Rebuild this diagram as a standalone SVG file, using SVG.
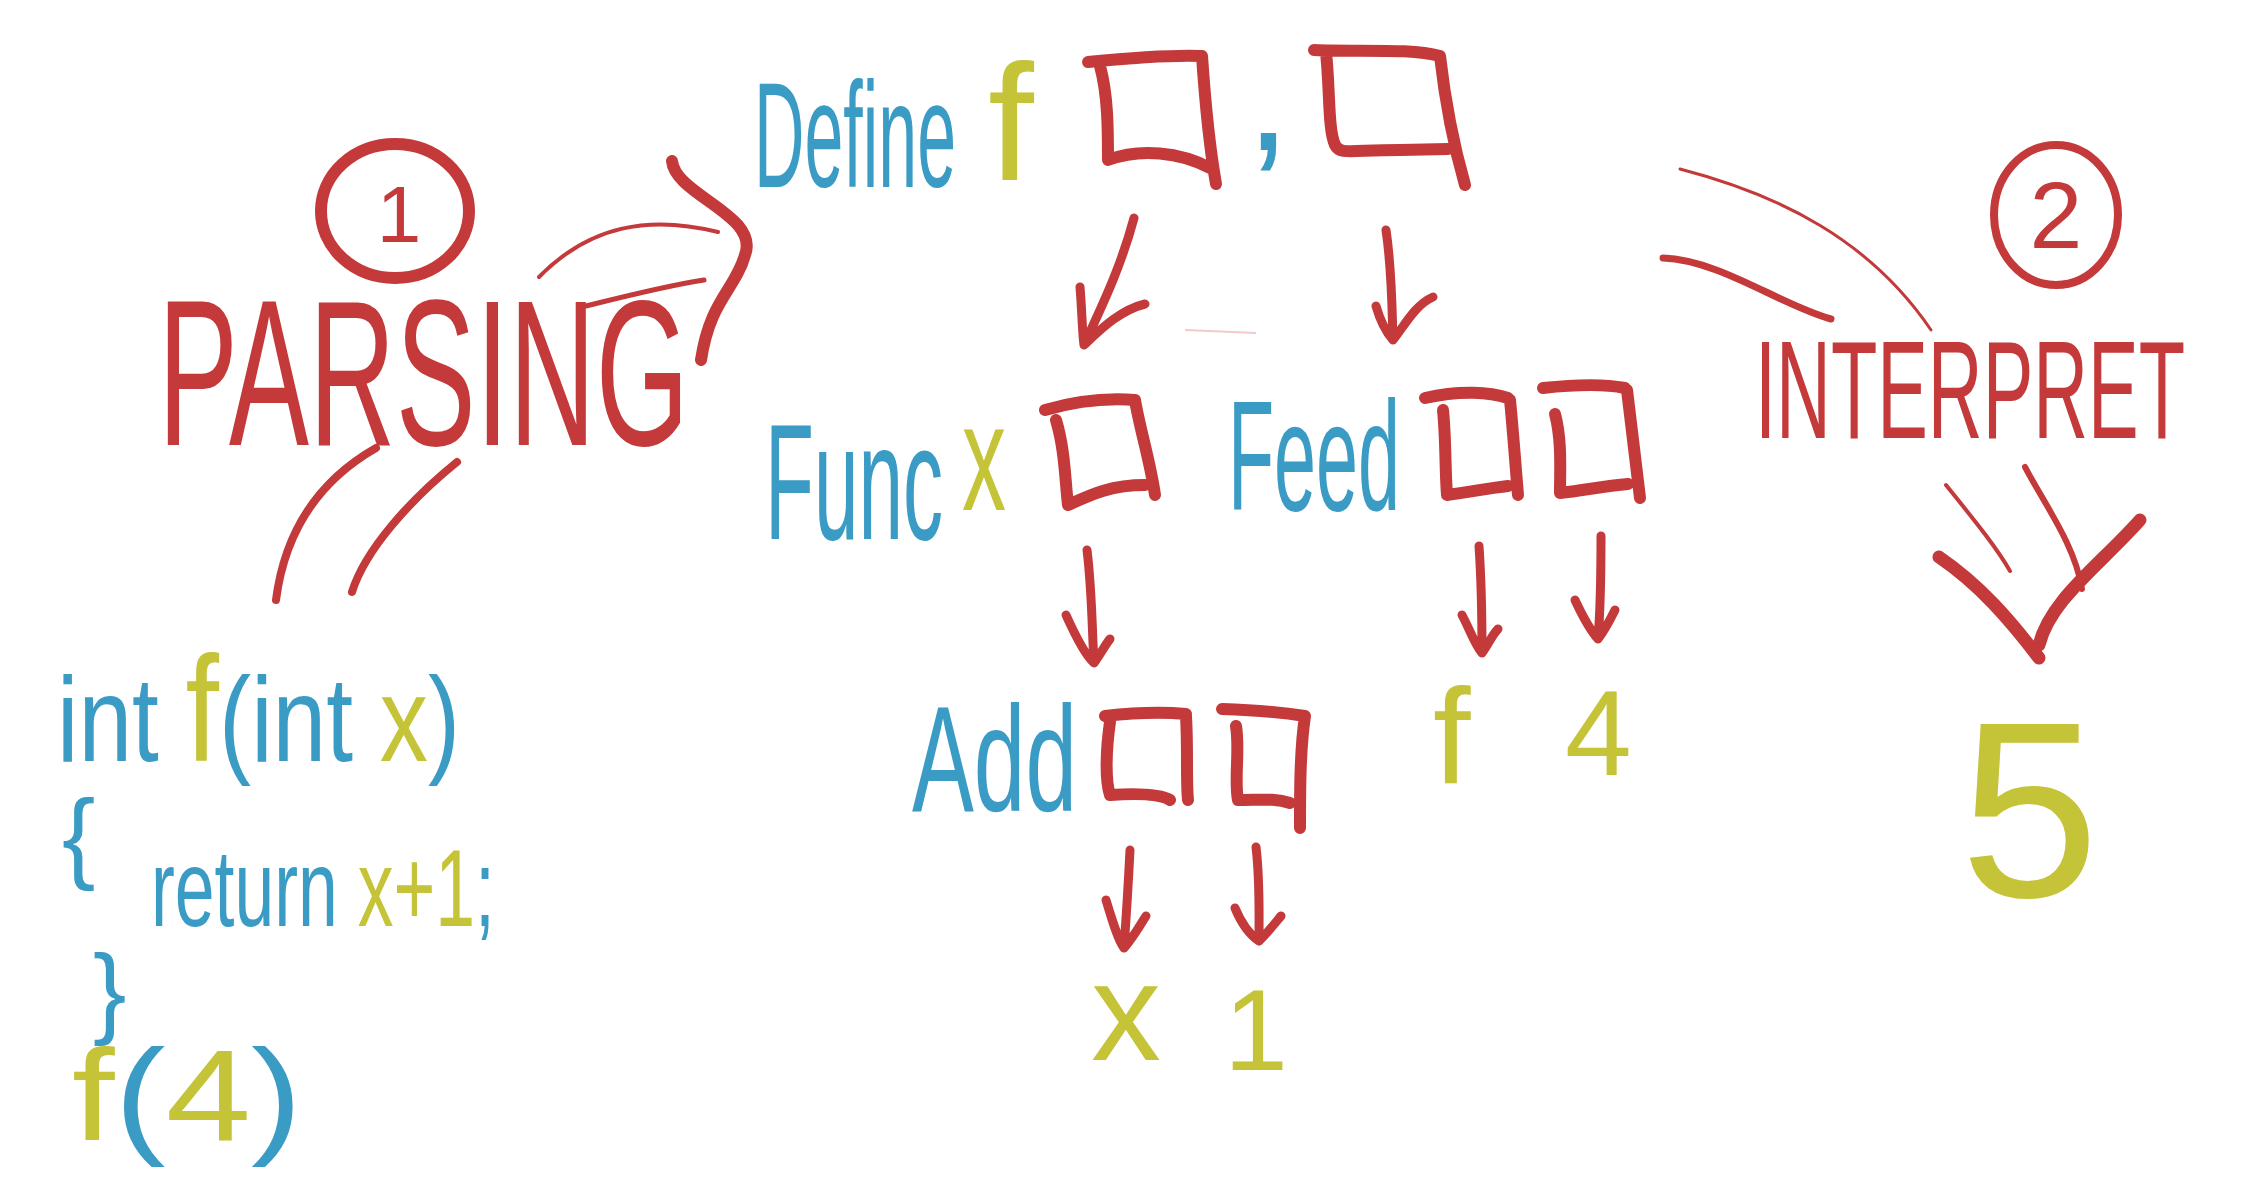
<svg xmlns="http://www.w3.org/2000/svg" width="2252" height="1196" viewBox="0 0 2252 1196">
<style>
text{font-family:"Liberation Sans",Arial,sans-serif}
.red{fill:#C4393A}.blue{fill:#3A9BC5}.yel{fill:#C5C337}
.box{fill:none;stroke:#C4393A;stroke-width:12;stroke-linecap:round;stroke-linejoin:round}
.arr{fill:none;stroke:#C4393A;stroke-width:9;stroke-linecap:round;stroke-linejoin:round}
.thin{fill:none;stroke:#C4393A;stroke-linecap:round}
</style>
<rect width="2252" height="1196" fill="#fff"/>
<g id="connectors">
<path class="thin" stroke-width="8" d="M376,448 C320,480 285,530 276,600"/>
<path class="thin" stroke-width="8" d="M457,462 C410,500 365,550 352,592"/>
<path class="thin" stroke-width="4" d="M539,277 C590,225 650,215 718,232"/>
<path class="thin" stroke-width="5" d="M586,306 C630,295 670,285 704,280"/>
<path class="thin" stroke-width="12" d="M672,161 C675,195 760,215 745,255 C735,290 710,300 701,360"/>
<path class="arr" d="M1134,218 C1120,270 1100,310 1084,345 M1080,287 C1082,310 1082,330 1084,345 C1100,330 1120,310 1145,304"/>
<path class="arr" d="M1386,230 C1392,270 1392,310 1393,340 M1376,306 C1380,320 1386,332 1393,340 C1405,325 1415,305 1433,297"/>
<path fill="none" stroke="#f3c9c9" stroke-width="2" d="M1185,330 L1256,333"/>
<path class="arr" d="M1087,550 C1092,590 1092,630 1094,663 M1066,615 C1075,635 1085,655 1094,663 C1100,655 1105,645 1110,639"/>
<path class="arr" d="M1479,546 C1482,590 1482,630 1482,653 M1462,615 C1470,630 1475,645 1482,653 C1488,645 1492,635 1498,629"/>
<path class="arr" d="M1601,536 C1601,580 1600,615 1598,639 M1575,600 C1582,615 1590,630 1598,639 C1605,630 1610,620 1615,610"/>
<path class="arr" d="M1130,850 C1128,890 1126,920 1124,948 M1106,900 C1112,920 1118,940 1124,948 C1135,935 1140,925 1146,916"/>
<path class="arr" stroke-width="12" d="M1256,847 C1260,880 1259,910 1259,941 M1235,908 C1242,925 1250,935 1259,941 C1270,930 1276,922 1281,916"/>
<path class="thin" stroke-width="3" d="M1680,169 C1780,195 1870,240 1931,330"/>
<path class="thin" stroke-width="7" d="M1663,258 C1720,260 1780,305 1831,319"/>
<path class="thin" stroke-width="4" d="M1946,485 C1970,515 1995,545 2010,571"/>
<path class="thin" stroke-width="6" d="M2025,467 C2045,505 2075,545 2082,589"/>
<path class="thin" stroke-width="13" d="M1939,557 C1980,585 2010,620 2039,658 M2140,520 C2100,565 2050,600 2039,645"/>
</g>
<g id="step1">
<ellipse cx="395" cy="211" rx="74" ry="67" fill="none" stroke="#C4393A" stroke-width="12"/>
<text class="red" x="399" y="242" font-size="80" text-anchor="middle">1</text>
</g>
<g id="parsing"><text class="red" x="158" y="445" font-size="207" textLength="531" lengthAdjust="spacingAndGlyphs">PARSING</text></g>
<g id="define">
<text class="blue" x="754" y="187" font-size="150" textLength="202" lengthAdjust="spacingAndGlyphs">Define</text>
<text class="yel" x="988" y="180" font-size="165">f</text>
</g>
<g id="box1"><path class="box" d="M1088,62 C1130,58 1170,55 1200,56 M1100,66 C1108,95 1108,130 1108,160 C1140,148 1180,152 1210,168 M1202,56 C1205,100 1210,150 1216,184"/></g>
<g id="comma"><text class="blue" x="1246" y="150" font-size="160">,</text></g>
<g id="box2"><path class="box" stroke-width="14" d="M1314,50 C1360,52 1410,48 1440,56 M1326,52 C1330,90 1328,130 1335,145 C1340,155 1350,150 1400,150 L1448,149 M1440,56 C1445,100 1455,150 1465,185"/></g>
<g id="func">
<text class="blue" x="765" y="539" font-size="165" textLength="178" lengthAdjust="spacingAndGlyphs">Func</text>
<text class="yel" x="962" y="510" font-size="152" textLength="44" lengthAdjust="spacingAndGlyphs">x</text>
</g>
<g id="box3"><path class="box" d="M1045,410 C1080,400 1110,398 1135,400 M1056,420 C1065,450 1065,480 1068,505 C1090,495 1110,485 1145,485 M1135,400 C1140,430 1150,460 1155,495"/></g>
<g id="feed"><text class="blue" x="1228" y="510" font-size="155" textLength="172" lengthAdjust="spacingAndGlyphs">Feed</text></g>
<g id="box4"><path class="box" d="M1425,398 C1460,390 1490,392 1508,398 M1443,410 C1446,440 1445,470 1447,495 C1470,492 1490,488 1508,486 M1510,400 C1513,430 1515,460 1518,495"/></g>
<g id="box5"><path class="box" d="M1543,388 C1580,384 1605,384 1625,388 M1555,414 C1562,440 1560,470 1560,493 C1585,490 1605,486 1628,484 M1627,390 C1632,430 1636,465 1640,498"/></g>
<g id="add"><text class="blue" x="912" y="811" font-size="150" textLength="165" lengthAdjust="spacingAndGlyphs">Add</text></g>
<g id="box6"><path class="box" d="M1105,716 C1140,712 1165,712 1186,714 M1110,722 C1106,750 1105,780 1110,795 C1140,793 1160,794 1170,800 M1186,716 C1188,750 1186,780 1188,800"/></g>
<g id="box7"><path class="box" d="M1222,709 C1255,710 1280,712 1305,716 M1236,726 C1240,750 1234,780 1238,800 C1260,800 1275,798 1290,803 M1305,716 C1300,750 1300,790 1300,828"/></g>
<g id="val-f"><text class="yel" x="1433" y="783" font-size="135">f</text></g>
<g id="val-4"><text class="yel" x="1565" y="775" font-size="120">4</text></g>
<g id="val-x"><text class="yel" x="1091" y="1060" font-size="140">x</text></g>
<g id="val-1"><text class="yel" x="1256" y="1070" font-size="115" text-anchor="middle">1</text></g>
<g id="interpret"><text class="red" x="1755" y="438" font-size="140" textLength="430" lengthAdjust="spacingAndGlyphs">INTERPRET</text></g>
<g id="step2">
<ellipse cx="2056" cy="215" rx="62" ry="70" fill="none" stroke="#C4393A" stroke-width="8"/>
<text class="red" x="2056" y="248" font-size="95" text-anchor="middle">2</text>
</g>
<g id="result"><text class="yel" x="1960" y="897" font-size="250">5</text></g>
<g id="code">
<text class="blue" x="57" y="761" font-size="120" textLength="403" lengthAdjust="spacingAndGlyphs">int <tspan class="yel" font-size="150">f</tspan>(int <tspan class="yel">x</tspan>)</text>
<text class="blue" x="62" y="870" font-size="100">{</text>
<text class="blue" x="151" y="926" font-size="110" textLength="344" lengthAdjust="spacingAndGlyphs">return <tspan class="yel">x+1</tspan>;</text>
<text class="blue" x="93" y="1025" font-size="100">}</text>
<text class="yel" x="72" y="1140" font-size="130" textLength="230" lengthAdjust="spacingAndGlyphs">f<tspan class="blue">(</tspan>4<tspan class="blue">)</tspan></text>
</g>
</svg>
